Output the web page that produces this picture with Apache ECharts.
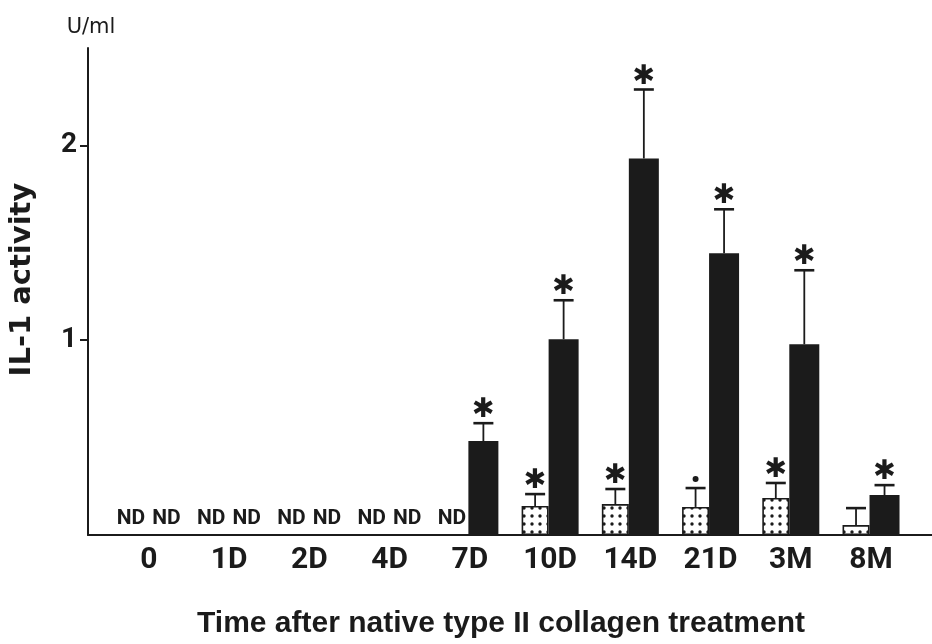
<!DOCTYPE html>
<html>
<head>
<meta charset="utf-8">
<script src="https://cdn.jsdelivr.net/npm/echarts@6/dist/echarts.min.js"></script>
<style>
  html, body { margin: 0; padding: 0; background: #ffffff; }
  #chart { width: 932px; height: 644px; }
</style>
</head>
<body>
<div id="chart"></div>
<script>
// ---- data ----
const categories = ['0', '1D', '2D', '4D', '7D', '10D', '14D', '21D', '3M', '8M'];
// dotted bars (null = ND)
const dottedMean  = [null, null, null, null, null, 0.149, 0.159, 0.144, 0.19, 0.051];
const dottedUpper = [null, null, null, null, null, 0.21, 0.236, 0.241, 0.267, 0.138];
const dottedMark  = ['', '', '', '', '', '*', '*', '•', '*', ''];
// black bars (null = ND)
const blackMean  = [null, null, null, null, 0.482, 1.005, 1.933, 1.446, 0.979, 0.205];
const blackUpper = [null, null, null, null, 0.574, 1.205, 2.287, 1.672, 1.359, 0.256];
const blackMark  = ['', '', '', '', '*', '*', '*', '*', '*', '*'];
const yTicks = [1, 2];

// ---- styling ----
const INK = '#1b1b1b';
const NARROW = "Roboto, 'Liberation Sans Narrow', sans-serif";
const DOT_W = 27, BLK_W = 30;
const DOT_OFF = -(DOT_W + BLK_W) / 2 + DOT_W / 2;   // centre offset of dotted bar
const BLK_OFF = -(DOT_W + BLK_W) / 2 + DOT_W + BLK_W / 2;

// dotted fill pattern
const pat = document.createElement('canvas');
pat.width = 8; pat.height = 8;
const pc = pat.getContext('2d');
pc.fillStyle = '#ffffff'; pc.fillRect(0, 0, 8, 8);
pc.fillStyle = INK; pc.beginPath(); pc.arc(4, 4, 1.7, 0, Math.PI * 2); pc.fill();

function barData(means, isDotted) {
  return means.map(function (v, i) {
    if (v === null) {
      return {
        value: [i, 0],
        itemStyle: { borderWidth: 0, color: 'rgba(0,0,0,0)' },
        label: {
          show: true, position: 'top', distance: 6, formatter: 'ND',
          offset: [isDotted ? -3 : 4, 0],
          fontFamily: NARROW, fontWeight: 'bold', fontSize: 21, color: INK
        }
      };
    }
    return { value: [i, v] };
  });
}

function errData(means, uppers) {
  const out = [];
  means.forEach(function (v, i) {
    if (v !== null) out.push([i, v, uppers[i]]);
  });
  return out;
}

function errRender(offset, marks) {
  return function (params, api) {
    const x = api.value(0);
    const p0 = api.coord([x, api.value(1)]);
    const p1 = api.coord([x, api.value(2)]);
    const cx = p0[0] + offset;
    const children = [
      { type: 'line', shape: { x1: cx, y1: p0[1], x2: cx, y2: p1[1] },
        style: { stroke: INK, lineWidth: 1.8 } },
      { type: 'line', shape: { x1: cx - 10, y1: p1[1], x2: cx + 10, y2: p1[1] },
        style: { stroke: INK, lineWidth: 2.6 } }
    ];
    const m = marks[x];
    if (m === '*') {
      children.push({ type: 'text', style: {
        text: '✱', x: cx, y: p1[1] - 13, align: 'center', verticalAlign: 'middle',
        fontSize: 27, fontFamily: "'DejaVu Sans', sans-serif", fill: INK } });
    } else if (m === '•') {
      children.push({ type: 'circle', shape: { cx: cx, cy: p1[1] - 9, r: 3 },
        style: { fill: INK } });
    }
    return { type: 'group', children: children };
  };
}

const chart = echarts.init(document.getElementById('chart'), null, { renderer: 'canvas' });
chart.setOption({
  backgroundColor: '#ffffff',
  animation: false,
  grid: { left: 88, right: 0, top: 48, bottom: 109, containLabel: false, outerBoundsMode: 'none' },
  xAxis: {
    type: 'value', min: -0.76, max: 9.76,
    axisLine: { show: true, onZero: false, lineStyle: { color: INK, width: 2 } },
    axisTick: { show: false },
    splitLine: { show: false },
    axisLabel: {
      customValues: categories.map(function (c, i) { return i; }),
      formatter: function (v) { return categories[Math.round(v)]; },
      margin: 10, fontFamily: NARROW, fontWeight: 'bold', fontSize: 30, color: INK
    }
  },
  yAxis: {
    type: 'value', min: 0, max: 2.5,
    name: 'U/ml', nameLocation: 'end', nameGap: 10,
    nameTextStyle: { fontFamily: "'DejaVu Sans', sans-serif", fontSize: 21, color: INK, padding: [0, 0, 0, 6] },
    axisLine: { show: true, onZero: false, lineStyle: { color: INK, width: 2 } },
    axisTick: { show: true, customValues: yTicks, length: 8, lineStyle: { color: INK, width: 2 } },
    splitLine: { show: false },
    axisLabel: {
      customValues: yTicks, margin: 11,
      fontFamily: NARROW, fontWeight: 'bold', fontSize: 28, color: INK
    }
  },
  graphic: [
    { type: 'text', x: 22.5, y: 279.5, rotation: Math.PI / 2,
      style: { text: 'IL-1 activity', align: 'center', verticalAlign: 'middle',
        fontFamily: "'DejaVu Sans', sans-serif", fontWeight: 'bold', fontSize: 29, fill: INK } },
    { type: 'text', x: 501, y: 623.5,
      style: { text: 'Time after native type II collagen treatment', align: 'center', verticalAlign: 'middle',
        fontFamily: "'Liberation Sans', Arial, sans-serif", fontWeight: 'bold', fontSize: 30, fill: INK } }
  ],
  series: [
    { name: 'dotted', type: 'bar', barWidth: DOT_W, barGap: '0%',
      itemStyle: { color: { image: pat, repeat: 'repeat' }, borderColor: INK, borderWidth: 1.6 },
      data: barData(dottedMean, true) },
    { name: 'black', type: 'bar', barWidth: BLK_W, barGap: '0%',
      itemStyle: { color: INK },
      data: barData(blackMean, false) },
    { name: 'dottedErr', type: 'custom', z: 5, encode: { x: 0, y: [1, 2] },
      renderItem: errRender(DOT_OFF, dottedMark), data: errData(dottedMean, dottedUpper) },
    { name: 'blackErr', type: 'custom', z: 5, encode: { x: 0, y: [1, 2] },
      renderItem: errRender(BLK_OFF, blackMark), data: errData(blackMean, blackUpper) }
  ]
});
</script>
</body>
</html>
